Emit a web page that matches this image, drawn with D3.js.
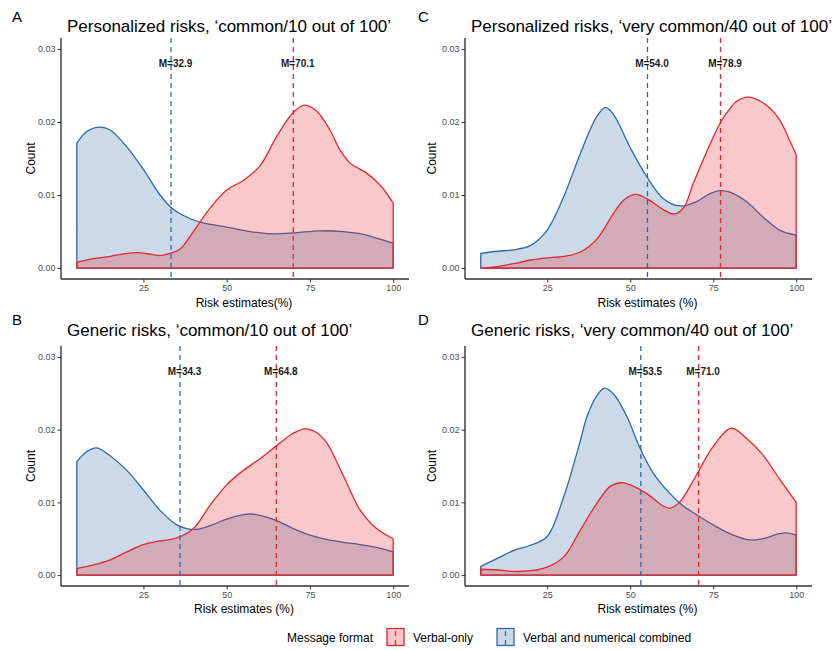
<!DOCTYPE html>
<html>
<head>
<meta charset="utf-8">
<script src="https://cdn.jsdelivr.net/npm/d3@7"></script>
<style>
body{margin:0;background:#fff;}
text{font-family:"Liberation Sans",Arial,sans-serif;}
</style>
</head>
<body>
<svg id="chart" width="836" height="650"></svg>
<script>
// panel tags, titles and axis labels
var tags = ['A','B','C','D'];
var titles = [
	'Personalized risks, \u2018common/10 out of 100\u2019',
	'Generic risks, \u2018common/10 out of 100\u2019',
	'Personalized risks, \u2018very common/40 out of 100\u2019',
	'Generic risks, \u2018very common/40 out of 100\u2019'
];
var xTitles = ['Risk estimates(%)','Risk estimates (%)','Risk estimates (%)','Risk estimates (%)'];
var yTitle = 'Count';
var xTicks = [25,50,75,100];
var yTicks = [0,0.01,0.02,0.03];

// group means (line position) and the printed label
var meanVerbal = [70.0, 64.9, 77.2, 70.6];
var meanCombined = [33.3, 36.0, 55.2, 53.2];
var labVerbal = ['M=70.1','M=64.8','M=78.9','M=71.0'];
var labCombined = ['M=32.9','M=34.3','M=54.0','M=53.5'];

// density estimates, [risk estimate, density]
var aVerbal = [[5,.0008],[10,.0013],[15,.0016],[20,.0020],[23,.0021],[27,.0019],[30,.0017],[33,.0020],[36,.0026],[40,.0050],[45,.0082],[50,.0107],[55,.0120],[60,.0140],[65,.0180],[70,.0213],[73.5,.0223],[77,.0215],[81,.0189],[84,.0162],[87,.0144],[92,.0130],[96,.0114],[100,.0089]];
var aCombined = [[5,.0171],[8,.0187],[12,.0193],[15,.0189],[20,.0166],[25,.0135],[30,.0100],[33.3,.0083],[37,.0072],[42,.0063],[50,.0056],[57,.0050],[63,.0047],[70,.0048],[78,.0051],[85,.0050],[90,.0047],[95,.0041],[100,.0034]];
var bVerbal = [[5,.0009],[10,.0014],[15,.0021],[20,.0032],[25,.0042],[30,.0047],[35,.0051],[40,.0064],[45,.0096],[50,.0124],[55,.0144],[60,.0160],[65,.0178],[70,.0195],[73.5,.0201],[77,.0196],[80,.0182],[85,.0137],[90,.0090],[95,.0064],[100,.0050]];
var bCombined = [[5,.0156],[8,.0170],[11,.0175],[15,.0164],[20,.0144],[25,.0117],[30,.0089],[35,.0069],[38,.0064],[41,.0063],[45,.0068],[50,.0077],[55,.0083],[57,.0084],[60,.0082],[65,.0075],[70,.0064],[75,.0055],[80,.0049],[85,.0045],[90,.0042],[95,.0038],[100,.0032]];
var cVerbal = [[5,0],[10,.0002],[15,.0006],[20,.0011],[25,.0014],[30,.0016],[35,.0022],[40,.0040],[45,.0075],[48,.0093],[51.5,.0101],[55,.0095],[60,.0080],[63,.0074],[66,.0082],[69,.0116],[73,.0159],[77,.0198],[79,.0212],[82,.0228],[85.6,.0234],[91,.0223],[95,.0203],[98,.0175],[100,.0155]];
var cCombined = [[5,.0020],[10,.0023],[15,.0025],[20,.0031],[25,.0052],[30,.0098],[35,.0157],[40,.0208],[42.6,.0220],[45,.0210],[50,.0165],[55,.0125],[60,.0095],[65,.0085],[70,.0091],[74,.0102],[77,.0106],[80,.0104],[85,.0091],[90,.0070],[95,.0052],[100,.0045]];
var dVerbal = [[5,.0008],[10,.0007],[15,.0005],[20,.0006],[25,.0011],[30,.0025],[35,.0062],[40,.0099],[44,.0122],[47.4,.0127],[50,.0124],[55,.0112],[60,.0095],[62,.0092],[65,.0101],[70,.0138],[75,.0177],[80.5,.0202],[85,.0188],[90,.0165],[95,.0132],[100,.0100]];
var dCombined = [[5,.0012],[10,.0023],[15,.0034],[20,.0041],[25,.0053],[30,.0108],[32.2,.0140],[35,.0185],[37,.0218],[40,.0247],[42.3,.0257],[45,.0249],[49,.0218],[53,.0174],[57,.0140],[62,.0112],[66,.0095],[70,.0083],[75,.0069],[80,.0057],[85,.0049],[87,.0048],[90,.0050],[95,.0057],[97,.0058],[100,.0055]];

var verbalSeries = [aVerbal, bVerbal, cVerbal, dVerbal];
var combinedSeries = [aCombined, bCombined, cCombined, dCombined];

var legendTitle = 'Message format';
var legendLabels = ['Verbal-only','Verbal and numerical combined'];

var redCol = '#E8252A';
var blueCol = '#2F68A8';

var svg = d3.select('#chart');

// panel boxes on the page
var boxes = [
	{l:61, r:409, t:38, b:279, tx:12, ty:22, titleY:32, xlabY:307, ylabX:35},
	{l:61, r:409, t:346, b:586, tx:12, ty:325, titleY:336, xlabY:613, ylabX:35},
	{l:465, r:812, t:38, b:279, tx:418, ty:22, titleY:32, xlabY:307, ylabX:436},
	{l:465, r:812, t:346, b:586, tx:418, ty:325, titleY:336, xlabY:613, ylabX:436}
];

function drawDensity(g, pts, x, y, col){
	var top = d3.line()
		.x(function(d){return x(d[0]);})
		.y(function(d){return y(d[1]);})
		.curve(d3.curveCatmullRom.alpha(0.5))(pts);
	var first = pts[0][0], last = pts[pts.length-1][0];
	var path = 'M'+x(first)+','+y(0)+'L'+top.slice(1)+'L'+x(last)+','+y(0)+'Z';
	g.append('path')
		.attr('d', path)
		.attr('fill', col)
		.attr('fill-opacity', 0.25)
		.attr('stroke', col)
		.attr('stroke-width', 1.3)
		.attr('stroke-linejoin','round');
}

tags.forEach(function(tag, i){
	var bx = boxes[i];
	var x = d3.scaleLinear().domain([0.25,104.75]).range([bx.l, bx.r]);
	var y = d3.scaleLinear().domain([-0.0015,0.0315]).range([bx.b, bx.t]);
	var g = svg.append('g').attr('class','panel'+tag);

	// densities: combined first, verbal-only on top
	drawDensity(g, combinedSeries[i], x, y, blueCol);
	drawDensity(g, verbalSeries[i], x, y, redCol);

	// mean lines
	[[meanCombined[i], blueCol],[meanVerbal[i], redCol]].forEach(function(m){
		g.append('line')
			.attr('x1', x(m[0])).attr('x2', x(m[0]))
			.attr('y1', bx.t).attr('y2', bx.b)
			.attr('stroke', m[1])
			.attr('stroke-width', 1.3)
			.attr('stroke-dasharray','5,4');
	});
	[[meanCombined[i], labCombined[i]],[meanVerbal[i], labVerbal[i]]].forEach(function(m){
		g.append('text')
			.attr('x', x(m[0])+4.5)
			.attr('y', y(0.028))
			.attr('dy','0.35em')
			.attr('text-anchor','middle')
			.attr('font-size','10px')
			.attr('font-weight','bold')
			.attr('fill','#1a1a1a')
			.text(m[1]);
	});

	// axes
	var ya = g.append('g').attr('transform','translate('+bx.l+',0)')
		.call(d3.axisLeft(y).tickValues(yTicks).tickFormat(d3.format('.2f')).tickSize(3.5).tickPadding(2));
	var xa = g.append('g').attr('transform','translate(0,'+bx.b+')')
		.call(d3.axisBottom(x).tickValues(xTicks).tickSize(3.5).tickPadding(2));
	[ya, xa].forEach(function(a){
		a.select('.domain').remove();
		a.selectAll('line').attr('stroke','#333').attr('stroke-width',1);
		a.selectAll('text').attr('fill','#4d4d4d').attr('font-size','9px')
			.attr('font-family','"Liberation Sans",Arial,sans-serif');
	});
	g.append('line').attr('x1',bx.l).attr('x2',bx.l).attr('y1',bx.t).attr('y2',bx.b)
		.attr('stroke','#333').attr('stroke-width',1.4);
	g.append('line').attr('x1',bx.l).attr('x2',bx.r).attr('y1',bx.b).attr('y2',bx.b)
		.attr('stroke','#333').attr('stroke-width',1.4);

	// texts
	g.append('text').attr('x',bx.tx).attr('y',bx.ty)
		.attr('font-size','15px').attr('fill','#000').text(tag);
	g.append('text').attr('x',bx.l+6).attr('y',bx.titleY)
		.attr('font-size','17px').attr('fill','#000').text(titles[i]);
	g.append('text').attr('x',(bx.l+bx.r)/2+9).attr('y',bx.xlabY)
		.attr('text-anchor','middle').attr('font-size','12px').attr('fill','#000').text(xTitles[i]);
	g.append('text')
		.attr('transform','translate('+bx.ylabX+','+((bx.t+bx.b)/2)+') rotate(-90)')
		.attr('text-anchor','middle').attr('font-size','12px').attr('fill','#000').text(yTitle);
});

// legend
var lg = svg.append('g').attr('class','legend');
lg.append('text').attr('x',287).attr('y',642).attr('font-size','12px').attr('fill','#000').text(legendTitle);
var keyX = [387, 497];
var keyCol = [redCol, blueCol];
legendLabels.forEach(function(lab, i){
	lg.append('rect')
		.attr('x', keyX[i]).attr('y', 628.5)
		.attr('width', 17).attr('height', 17)
		.attr('fill', keyCol[i]).attr('fill-opacity',0.25)
		.attr('stroke', keyCol[i]).attr('stroke-width',1.3);
	lg.append('line')
		.attr('x1', keyX[i]+8.5).attr('x2', keyX[i]+8.5)
		.attr('y1', 629).attr('y2', 645)
		.attr('stroke', keyCol[i]).attr('stroke-width',1.3)
		.attr('stroke-dasharray','5,4').attr('stroke-dashoffset',-2);
	lg.append('text').attr('x', keyX[i]+26).attr('y',642)
		.attr('font-size','12px').attr('fill','#000').text(lab);
});
</script>
</body>
</html>
